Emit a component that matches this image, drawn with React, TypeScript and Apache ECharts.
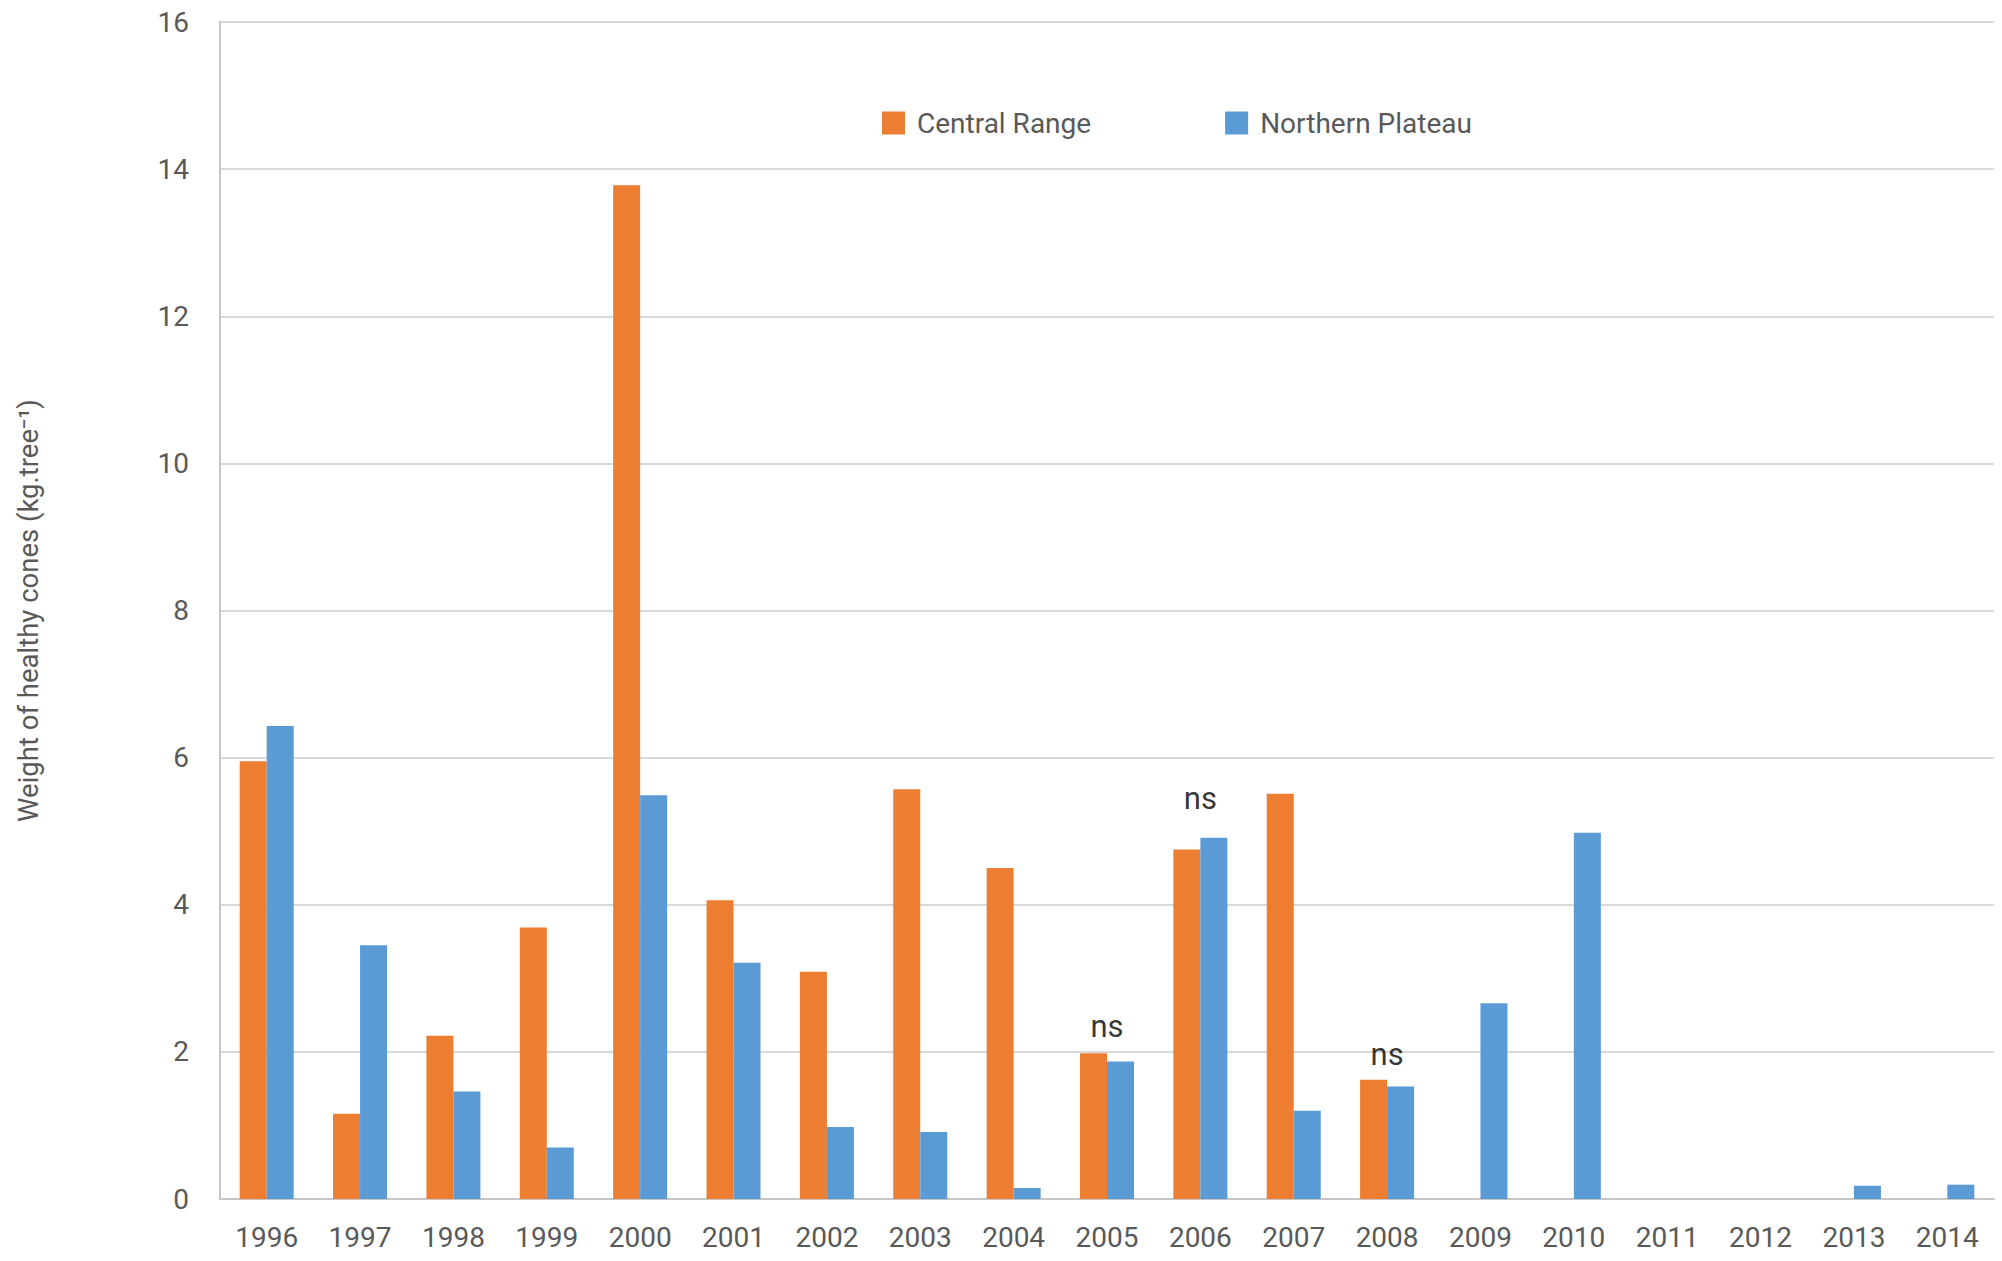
import React, { useEffect, useRef } from "react";
import * as echarts from "echarts";

const years = ["1996","1997","1998","1999","2000","2001","2002","2003","2004","2005","2006","2007","2008","2009","2010","2011","2012","2013","2014"];
const centralRange = [5.95, 1.16, 2.22, 3.69, 13.78, 4.06, 3.09, 5.57, 4.50, 1.98, 4.75, 5.51, 1.62, null, null, null, null, null, null];
const northernPlateau = [6.43, 3.45, 1.46, 0.70, 5.49, 3.21, 0.98, 0.91, 0.15, 1.87, 4.91, 1.20, 1.53, 2.66, 4.98, null, null, 0.18, 0.195];
const nsYears = ["2005", "2006", "2008"];
const nsHeights = [2.34, 5.45, 1.96];
const yTicks = { min: 0, max: 16, interval: 2 };

const FONT = "Roboto, 'Liberation Sans', Arial, sans-serif";
const TEXT = "#595959";

export default function App() {
  const ref = useRef<HTMLDivElement>(null);
  useEffect(() => {
    document.body.style.margin = "0";
    const chart = echarts.init(ref.current!, null, { renderer: "svg" });
    chart.setOption({
      animation: false,
      backgroundColor: "#ffffff",
      textStyle: { fontFamily: FONT },
      grid: { left: 220, right: 8, top: 22, bottom: 62, containLabel: false },
      legend: {
        data: ["Central Range", "Northern Plateau"],
        left: 877,
        top: 104,
        itemWidth: 23,
        itemHeight: 23,
        itemGap: 134,
        icon: "rect",
        textStyle: { fontSize: 28, color: TEXT, fontFamily: FONT, padding: [0, 0, 0, 7] },
      },
      xAxis: {
        type: "category",
        data: years,
        axisTick: { show: false },
        axisLine: { show: true, lineStyle: { color: "#c6c6c6", width: 2 } },
        axisLabel: { fontSize: 28, color: TEXT, margin: 24, fontFamily: FONT },
      },
      yAxis: {
        type: "value",
        min: yTicks.min,
        max: yTicks.max,
        interval: yTicks.interval,
        name: "Weight of healthy cones (kg.tree\u207B\u00B9)",
        nameLocation: "middle",
        nameGap: 178,
        nameTextStyle: { fontSize: 27.5, color: TEXT, fontFamily: FONT },
        axisLine: { show: true, lineStyle: { color: "#c6c6c6", width: 2 } },
        axisTick: { show: false },
        axisLabel: { fontSize: 28, color: TEXT, margin: 31, fontFamily: FONT },
        splitLine: { show: true, lineStyle: { color: "#d9d9d9", width: 2 } },
      },
      series: [
        {
          name: "Central Range",
          type: "bar",
          data: centralRange,
          barWidth: 27,
          barGap: "0%",
          itemStyle: { color: "#ED7D31" },
        },
        {
          name: "Northern Plateau",
          type: "bar",
          data: northernPlateau,
          barWidth: 27,
          barGap: "0%",
          itemStyle: { color: "#5B9BD5" },
        },
        {
          name: "ns",
          type: "scatter",
          symbolSize: 0,
          data: nsYears.map((y, i) => [y, nsHeights[i]]),
          label: {
            show: true,
            position: "inside",
            formatter: "ns",
            fontSize: 31,
            color: "#000000",
            fontFamily: FONT,
          },
          silent: true,
        },
      ],
    });
    return () => chart.dispose();
  }, []);
  return <div ref={ref} style={{ width: 2002, height: 1261 }} />;
}
